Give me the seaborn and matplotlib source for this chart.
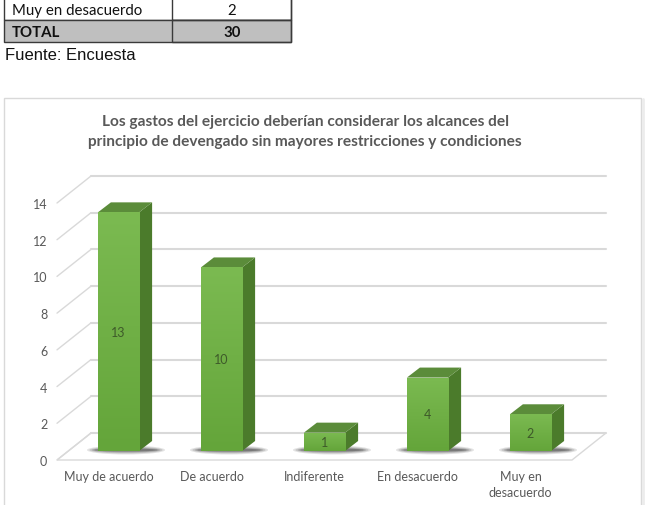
import numpy as np
import matplotlib
matplotlib.use("Agg")
import matplotlib.pyplot as plt
from matplotlib.patches import Polygon, Rectangle, Ellipse
import seaborn as sns

# datos
categorias = ["Muy de acuerdo", "De acuerdo", "Indiferente", "En desacuerdo", "Muy en\ndesacuerdo"]
respuestas = [13, 10, 1, 4, 2]
y_ticks = [0, 2, 4, 6, 8, 10, 12, 14]
titulo = ("Los gastos del ejercicio deberían considerar los alcances del\n"
          "principio de devengado sin mayores restricciones y condiciones")
tabla_filas = [["Muy en desacuerdo", "2"], ["TOTAL", "30"]]
fuente = "Fuente: Encuesta"

W, H = 652, 506
sns.set_theme(style="white")
plt.rcParams["font.family"] = ["Lato", "DejaVu Sans"]

fig = plt.figure(figsize=(W / 100, H / 100), dpi=100)
fig.patch.set_facecolor("white")


def fx(px):
    return px / W


def fy(py):
    return 1 - py / H


# tabla recortada de arriba
fondo = ["white", "#bfbfbf"]
for i, (a, b) in enumerate(tabla_filas):
    y0 = -1 + i * 22
    fig.patches.append(Rectangle((fx(4), fy(y0 + 22)), fx(287), 22 / H, transform=fig.transFigure,
                                 facecolor=fondo[i], edgecolor="#3a3a3a", lw=1))
    fig.patches.append(Rectangle((fx(172), fy(y0 + 22)), fx(119), 22 / H, transform=fig.transFigure,
                                 facecolor="none", edgecolor="#3a3a3a", lw=1))
    peso = "bold" if i == 1 else "normal"
    fig.text(fx(12), fy(y0 + 12), a, ha="left", va="center", fontsize=10.8, color="#111111", fontweight=peso)
    fig.text(fx(232), fy(y0 + 12), b, ha="center", va="center", fontsize=10.8, color="#111111", fontweight=peso)
fig.text(fx(5), fy(55), fuente, ha="left", va="center", fontsize=12, color="#111111",
         family=["Liberation Sans", "DejaVu Sans"])

# marco del grafico
fig.patches.append(Rectangle((fx(4), fy(520)), fx(637), 421 / H, transform=fig.transFigure,
                             facecolor="none", edgecolor="#d9d9d9", lw=1, zorder=-1))
fig.lines.append(plt.Line2D([fx(643), fx(643)], [fy(100), fy(506)], transform=fig.transFigure,
                            color="#ececec", lw=2))

fig.text(fx(305), fy(132), titulo, ha="center", va="center", fontsize=11.1, fontweight="bold",
         color="#595959", linespacing=1.6)

ax = fig.add_axes([fx(57), fy(461), fx(515), 257 / H])
sns.barplot(x=categorias, y=respuestas, ax=ax, width=0.4, color="#70ad47", saturation=1, zorder=3)
ax.set_xlim(-0.5, 4.5)
ax.set_ylim(0, 14)
ax.set_yticks(y_ticks)
ax.set_xlabel("")
ax.set_ylabel("")
ax.tick_params(length=0, labelsize=9, labelcolor="#595959", pad=7)
for lbl in ax.get_xticklabels():
    lbl.set_linespacing(1.4)
for s in ax.spines.values():
    s.set_visible(False)
ax.patch.set_alpha(0)

# conversion de pixeles a unidades de datos
p0 = ax.transData.transform((0, 0))
p1 = ax.transData.transform((1, 1))
ux, uy = p1[0] - p0[0], p1[1] - p0[1]


def d(dx, dy):
    return np.array([dx / ux, dy / uy])


fondo_off = d(34, 27)
barra_off = d(10, 9)
prof = d(13, 10)

# piso, pared y lineas de cuadricula
x0, x1 = -0.5, 4.5
piso = [(x0, 0), (x1, 0), (x1 + fondo_off[0], fondo_off[1]), (x0 + fondo_off[0], fondo_off[1])]
ax.add_patch(Polygon(piso, closed=True, facecolor="white", edgecolor="#d9d9d9", lw=1, clip_on=False, zorder=1))
for v in y_ticks:
    ax.plot([x0, x0 + fondo_off[0]], [v, v + fondo_off[1]], color="#d9d9d9", lw=1, clip_on=False, zorder=1)
    ax.plot([x0 + fondo_off[0], x1 + fondo_off[0]], [v + fondo_off[1]] * 2, color="#d9d9d9", lw=1.5,
            clip_on=False, zorder=1)

# barras con efecto 3d
cmap = matplotlib.colors.LinearSegmentedColormap.from_list("g", ["#64a53a", "#7bba51"])
for i, p in enumerate(ax.patches[:len(respuestas)]):
    bx, bw, bh = p.get_x() + barra_off[0], p.get_width(), p.get_height()
    by = barra_off[1]
    p.set_x(bx)
    p.set_y(by)
    p.set_edgecolor("none")
    p.set_clip_on(False)
    # sombra difusa
    cx = bx + (bw + prof[0]) / 2 + d(1, 0)[0]
    for k, a in enumerate([0.12, 0.15, 0.2, 0.3]):
        ew = bw + prof[0] + d(24 - 5 * k, 0)[0]
        eh = d(0, 9 - 2 * k)[1]
        ax.add_patch(Ellipse((cx, by + d(0, 1)[1]), ew, eh, facecolor="#1a1a1a", alpha=a,
                             edgecolor="none", clip_on=False, zorder=2))
    # gradiente frontal
    grad = np.linspace(0, 1, 100).reshape(-1, 1)
    im = ax.imshow(grad, extent=(bx, bx + bw, by, by + bh), cmap=cmap, origin="lower", aspect="auto",
                   zorder=3.5)
    im.set_clip_path(p)
    lado = [(bx + bw, by), (bx + bw + prof[0], by + prof[1]), (bx + bw + prof[0], by + bh + prof[1]),
            (bx + bw, by + bh)]
    tapa = [(bx, by + bh), (bx + bw, by + bh), (bx + bw + prof[0], by + bh + prof[1]),
            (bx + prof[0], by + bh + prof[1])]
    ax.add_patch(Polygon(lado, closed=True, facecolor="#4b7b2b", edgecolor="none", clip_on=False, zorder=3))
    ax.add_patch(Polygon(tapa, closed=True, facecolor="#5b8c3a", edgecolor="none", clip_on=False, zorder=3))
    ax.text(bx + bw / 2, by + bh / 2, str(respuestas[i]), ha="center", va="center", fontsize=9,
            color="#3e5a2a", zorder=5)

ax.set_xlim(-0.5, 4.5)
ax.set_ylim(0, 14)

fig.savefig("out.png", dpi=100)
